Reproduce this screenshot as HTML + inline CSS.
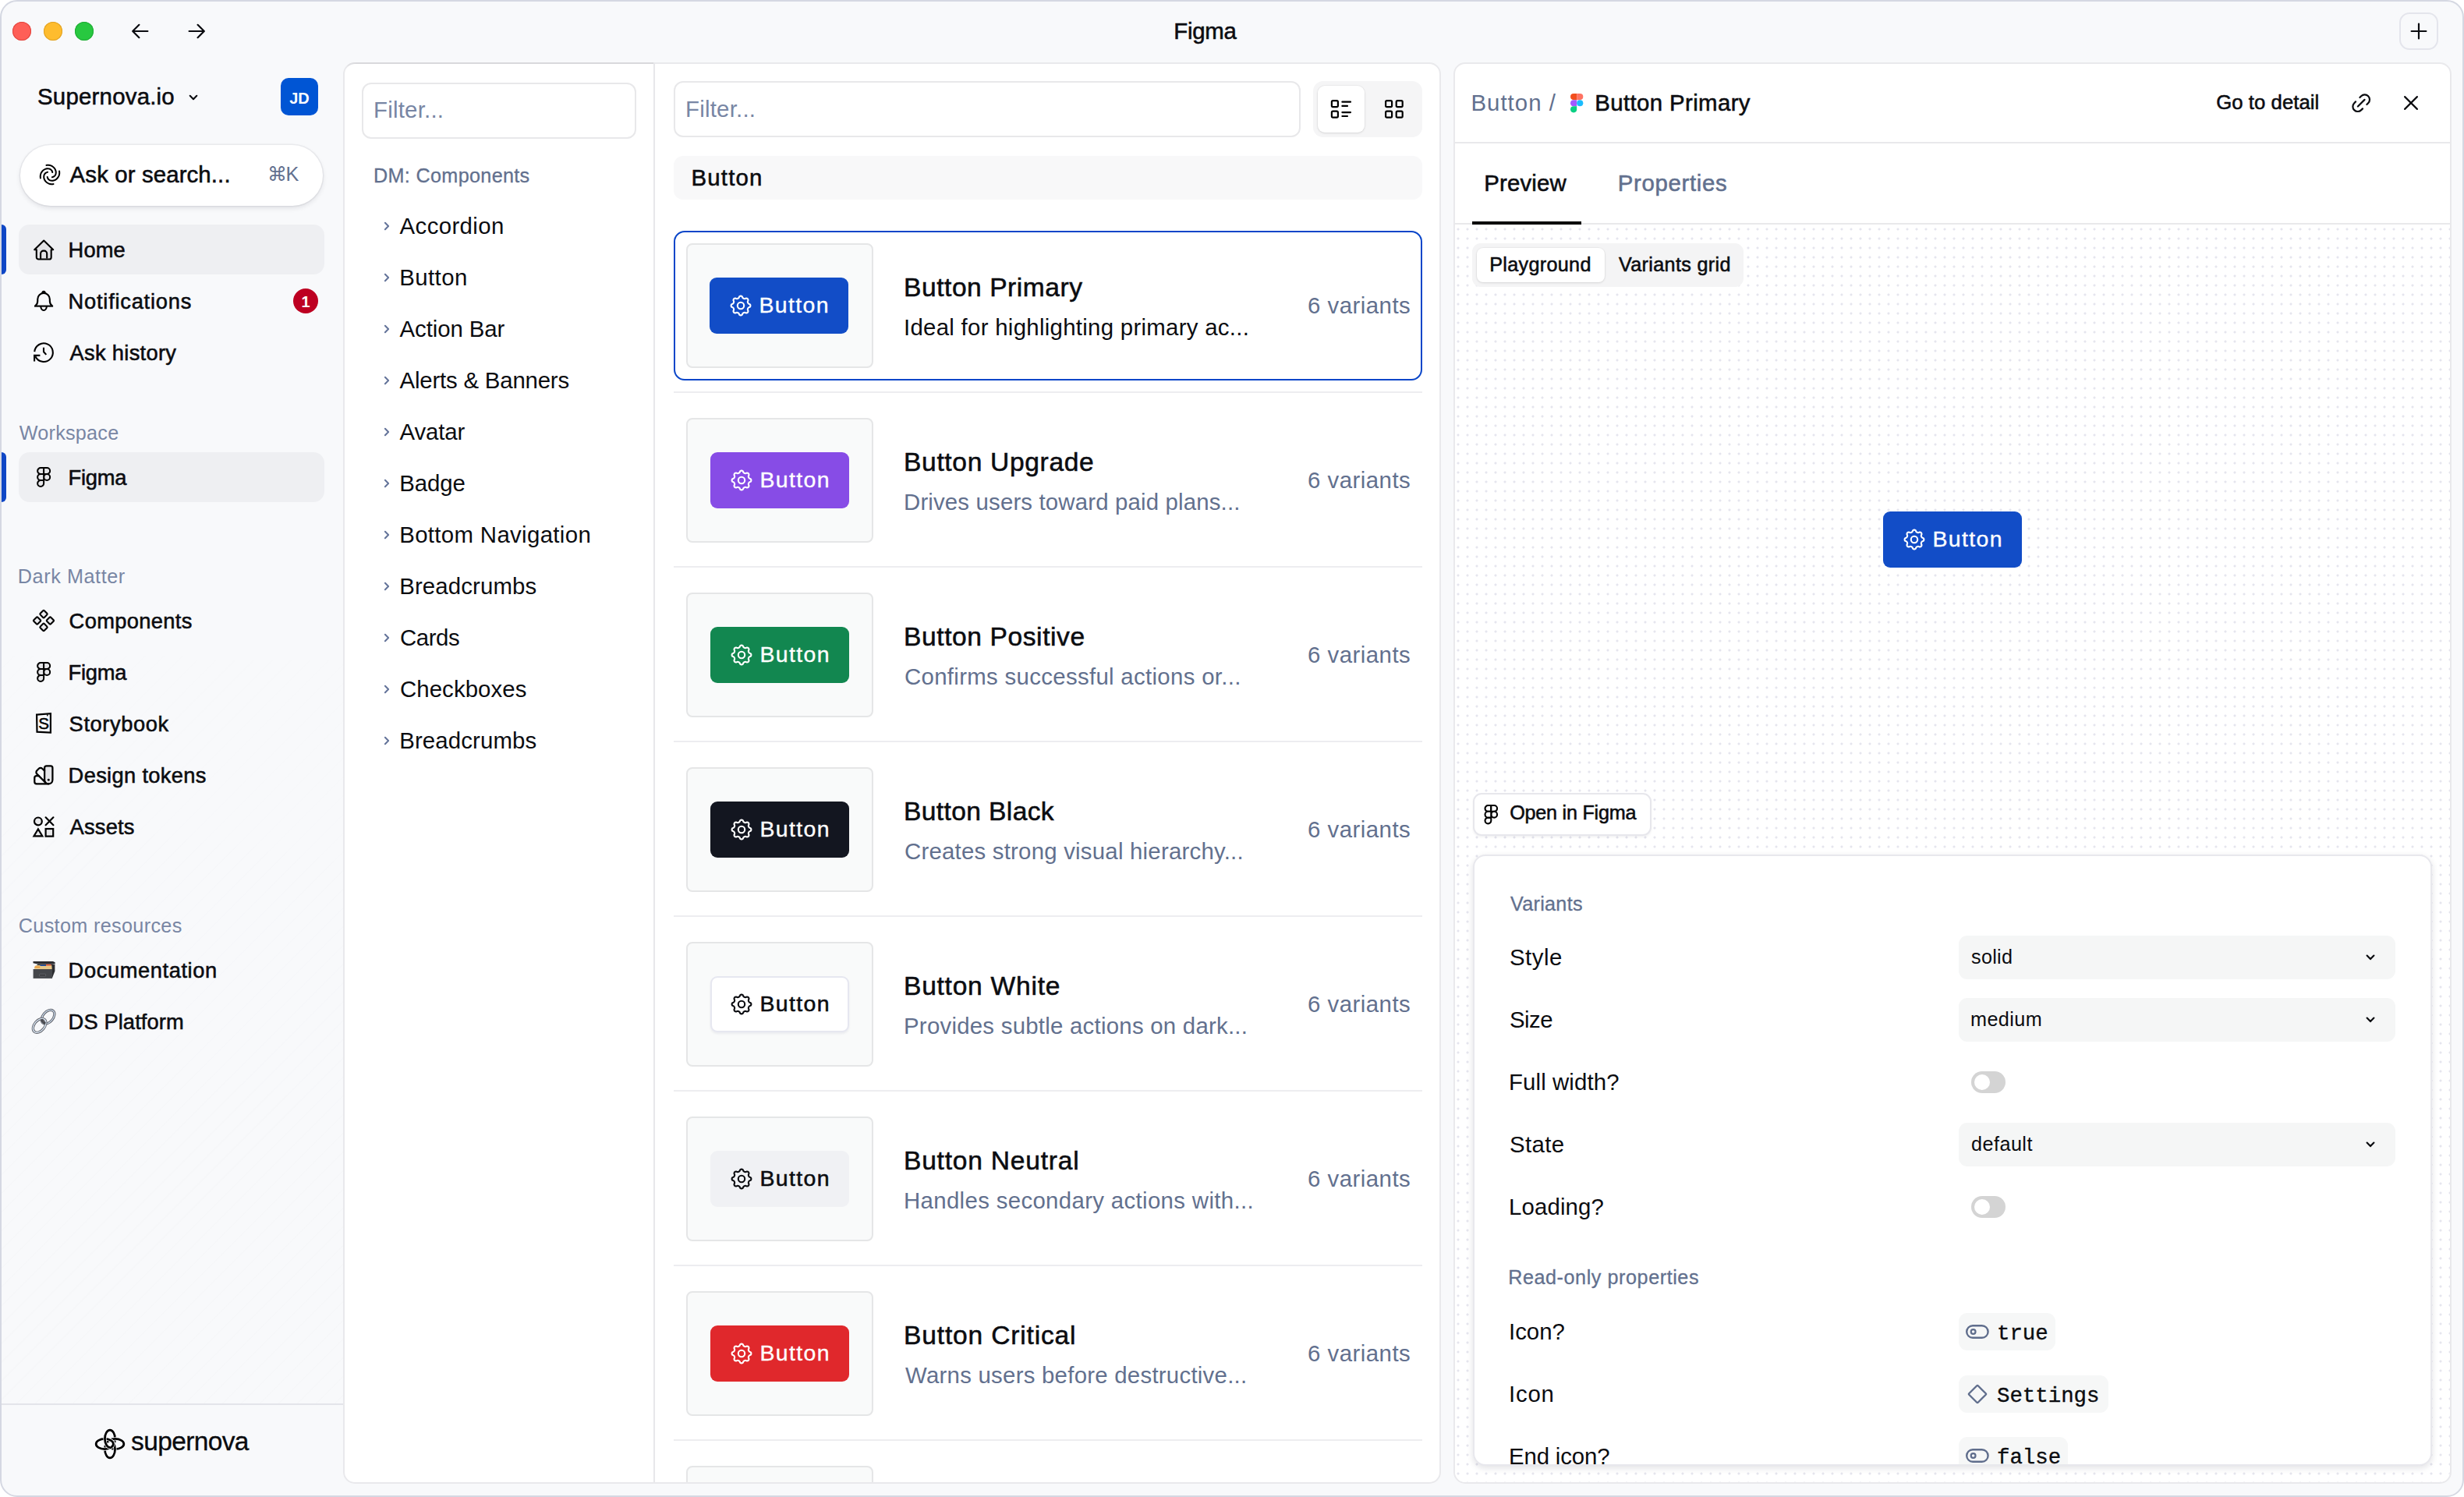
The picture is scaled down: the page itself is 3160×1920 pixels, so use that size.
<!DOCTYPE html><html lang="en"><head><meta charset="utf-8"><title>Figma</title>
<style>
*{margin:0;padding:0}
html,body{width:3160px;height:1920px;overflow:hidden;background:#fff}
body{position:relative;font-family:"Liberation Sans",sans-serif;-webkit-font-smoothing:antialiased}
#win{position:absolute;left:0;top:0;width:3160px;height:1920px;box-sizing:border-box;border:2px solid #d5d8e2;border-radius:22px;background:#f8f9fb;overflow:hidden}
#win div,#win span,#win svg{position:absolute}
#win section,#win nav,#win header,#win aside,#win main{position:absolute;left:0;top:0;width:3160px;height:1920px}
#win>section,#win>header,#win>aside,#win>main{left:-2px;top:-2px}
.t{white-space:nowrap;font-weight:400}
.m{-webkit-text-stroke:0.55px currentColor}
.b{font-weight:700}
.mo{font-family:"Liberation Mono",monospace}
.clip{overflow:hidden}
@media (max-width:1600px){html,body{width:1580px;height:960px}#win{zoom:.5}}
.i{overflow:visible}
.panel{box-sizing:border-box;border:2px solid #e9e9ec;border-radius:15px;background:#fff}
</style></head><body>
<div id="win">
<header>
<div style="left:16px;top:28px;width:24px;height:24px;border-radius:50%;background:#fe5f57;box-shadow:inset 0 0 0 1px #e2463f;"></div>
<div style="left:56px;top:28px;width:24px;height:24px;border-radius:50%;background:#febc2e;box-shadow:inset 0 0 0 1px #e0a123;"></div>
<div style="left:96px;top:28px;width:24px;height:24px;border-radius:50%;background:#28c840;box-shadow:inset 0 0 0 1px #1fab35;"></div>
<svg class="i" style="left:166px;top:26px;" width="28" height="28" viewBox="0 0 28 28"><path d="M23.4,14 H4.6 M12.4,5.8 L4.2,14 L12.4,22.2" fill="none" stroke="#0b0c10" stroke-width="2.2" stroke-linecap="round" stroke-linejoin="round"/></svg>
<svg class="i" style="left:238px;top:26px;" width="28" height="28" viewBox="0 0 28 28"><path d="M4.6,14 H23.4 M15.6,5.8 L23.8,14 L15.6,22.2" fill="none" stroke="#0b0c10" stroke-width="2.2" stroke-linecap="round" stroke-linejoin="round"/></svg>
<span id="t1" class="t m" style="left:1505.2px;top:20.6px;font-size:29.4px;line-height:38px;color:#0b0c10;letter-spacing:-0.225px;">Figma</span>
<div style="left:3077px;top:16px;width:50px;height:48px;border:2px solid #e4e5ec;border-radius:13px;box-sizing:border-box;background:#f8f9fb;"></div>
<svg class="i" style="left:3088px;top:26px;" width="28" height="28" viewBox="0 0 28 28"><path d="M14,4.6 V23.4 M4.6,14 H23.4" fill="none" stroke="#0b0c10" stroke-width="2.2" stroke-linecap="round"/></svg>
</header>
<aside>
<div style="left:2px;top:640px;width:439px;height:1160px;background:repeating-linear-gradient(135deg,rgba(60,60,90,0.04) 0,rgba(60,60,90,0.04) 1.5px,rgba(0,0,0,0) 1.6px,rgba(0,0,0,0) 17px);-webkit-mask-image:linear-gradient(160deg,#000 0%,rgba(0,0,0,0.25) 100%),linear-gradient(180deg,rgba(0,0,0,0) 10%,rgba(0,0,0,0.35) 55%,#000 100%);-webkit-mask-composite:source-in;mask-image:linear-gradient(160deg,#000 0%,rgba(0,0,0,0.25) 100%),linear-gradient(180deg,rgba(0,0,0,0) 10%,rgba(0,0,0,0.35) 55%,#000 100%);mask-composite:intersect;"></div>
<span id="t2" class="t m" style="left:48.0px;top:104.5px;font-size:29.4px;line-height:38px;color:#0b0c10;letter-spacing:0.227px;">Supernova.io</span>
<svg class="i" style="left:239.8px;top:118.5px;" width="16" height="12" viewBox="-8 -6 16 12"><path d="M-4.3,-2.15 L0,2.15 L4.3,-2.15" fill="none" stroke="#0b0c10" stroke-width="2.1" stroke-linecap="round" stroke-linejoin="round"/></svg>
<div style="left:360px;top:100px;width:48px;height:48px;border-radius:10px;background:#0055d4;"></div>
<span id="t3" class="t b" style="left:384px;top:113.26px;font-size:20.0px;line-height:26px;color:#fff;transform:translateX(-50%);">JD</span>
<div style="left:25.5px;top:185.5px;width:388.5px;height:78px;border-radius:40px;background:#fff;box-shadow:0 0 0 1.5px rgba(30,30,60,0.055),0 3px 6px rgba(20,20,40,0.10);"></div>
<svg class="i" style="left:50px;top:210px;" width="28" height="28" viewBox="-14 -14 28 28"><g fill="none" stroke="#000" stroke-width="2" stroke-linecap="round"><path d="M-4.52,-12.10 C-4.04,-12.12 -2.60,-12.30 -1.64,-12.22 C-0.68,-12.14 0.37,-11.94 1.25,-11.62 C2.13,-11.30 2.92,-10.83 3.66,-10.29 C4.40,-9.75 5.12,-9.09 5.70,-8.37 C6.28,-7.65 6.80,-6.76 7.14,-5.96 C7.48,-5.16 7.66,-4.32 7.74,-3.56 C7.82,-2.80 7.74,-2.07 7.62,-1.39 C7.50,-0.71 7.44,-0.11 7.02,0.53 C6.60,1.17 5.78,1.99 5.10,2.45 C4.42,2.91 3.29,3.15 2.93,3.29" transform="rotate(0)"/><path d="M-4.52,-12.10 C-4.04,-12.12 -2.60,-12.30 -1.64,-12.22 C-0.68,-12.14 0.37,-11.94 1.25,-11.62 C2.13,-11.30 2.92,-10.83 3.66,-10.29 C4.40,-9.75 5.12,-9.09 5.70,-8.37 C6.28,-7.65 6.80,-6.76 7.14,-5.96 C7.48,-5.16 7.66,-4.32 7.74,-3.56 C7.82,-2.80 7.74,-2.07 7.62,-1.39 C7.50,-0.71 7.44,-0.11 7.02,0.53 C6.60,1.17 5.78,1.99 5.10,2.45 C4.42,2.91 3.29,3.15 2.93,3.29" transform="rotate(90)"/><path d="M-4.52,-12.10 C-4.04,-12.12 -2.60,-12.30 -1.64,-12.22 C-0.68,-12.14 0.37,-11.94 1.25,-11.62 C2.13,-11.30 2.92,-10.83 3.66,-10.29 C4.40,-9.75 5.12,-9.09 5.70,-8.37 C6.28,-7.65 6.80,-6.76 7.14,-5.96 C7.48,-5.16 7.66,-4.32 7.74,-3.56 C7.82,-2.80 7.74,-2.07 7.62,-1.39 C7.50,-0.71 7.44,-0.11 7.02,0.53 C6.60,1.17 5.78,1.99 5.10,2.45 C4.42,2.91 3.29,3.15 2.93,3.29" transform="rotate(180)"/><path d="M-4.52,-12.10 C-4.04,-12.12 -2.60,-12.30 -1.64,-12.22 C-0.68,-12.14 0.37,-11.94 1.25,-11.62 C2.13,-11.30 2.92,-10.83 3.66,-10.29 C4.40,-9.75 5.12,-9.09 5.70,-8.37 C6.28,-7.65 6.80,-6.76 7.14,-5.96 C7.48,-5.16 7.66,-4.32 7.74,-3.56 C7.82,-2.80 7.74,-2.07 7.62,-1.39 C7.50,-0.71 7.44,-0.11 7.02,0.53 C6.60,1.17 5.78,1.99 5.10,2.45 C4.42,2.91 3.29,3.15 2.93,3.29" transform="rotate(270)"/></g></svg>
<span id="t4" class="t m" style="left:89.6px;top:204.6px;font-size:29.4px;line-height:38px;color:#0b0c10;letter-spacing:0.119px;">Ask or search...</span>
<span id="t5" class="t" style="left:343.0px;top:207.36px;font-size:25.2px;line-height:33px;color:#62708e;letter-spacing:-1.5px;">⌘K</span>
<div style="left:24px;top:288px;width:392px;height:64px;border-radius:14px;background:#eeeff2;"></div>
<div style="left:2px;top:288px;width:6px;height:64px;border-radius:0 6px 6px 0;background:#0f47c6;"></div>
<span id="t6" class="t m" style="left:87.6px;top:303.03px;font-size:27.3px;line-height:35px;color:#0b0c10;letter-spacing:0.1px;">Home</span>
<svg class="i" style="left:42.9px;top:306.6px;" width="26.4" height="26.6" viewBox="0 0 26.4 26.6"><path d="M3.8,13.3 V22.9 a2.6,2.6 0 0 0 2.6,2.6 H20.1 a2.6,2.6 0 0 0 2.6,-2.6 V13.3 H25.2 L13.2,1.5 L1.2,13.3 Z" fill="#e3e3e6" stroke="#000" stroke-width="2.1" stroke-linejoin="round"/><path d="M9.1,25.5 V18.2 a3.6,3.6 0 0 1 3.6,-3.6 h0.9 a3.6,3.6 0 0 1 3.6,3.6 V24.6" fill="none" stroke="#000" stroke-width="2.1"/></svg>
<span id="t7" class="t m" style="left:87.6px;top:369.03px;font-size:27.3px;line-height:35px;color:#0b0c10;letter-spacing:0.75px;">Notifications</span>
<svg class="i" style="left:43px;top:372px;" width="26" height="28" viewBox="0 0 26 28"><g fill="none" stroke="#000" stroke-width="2.1"><path d="M1,20.6 H25.1"/><path d="M2.2,20.4 C4.4,18.8 5.25,16.8 5.25,14 V11.7 A7.8,7.8 0 0 1 20.85,11.7 V14 C20.85,16.8 21.7,18.8 23.9,20.4"/><path d="M11.3,4.2 C11.3,0.9 14.8,0.9 14.8,4.2"/><path d="M9.25,20.6 a3.8,5.45 0 0 0 7.6,0"/></g></svg>
<div style="left:376px;top:370px;width:32px;height:32px;border-radius:50%;background:#bd0021;"></div>
<span id="t8" class="t b" style="left:392px;top:374.26px;font-size:20.0px;line-height:26px;color:#fff;transform:translateX(-50%);">1</span>
<span id="t9" class="t m" style="left:89.6px;top:435.03px;font-size:27.3px;line-height:35px;color:#0b0c10;letter-spacing:0.29px;">Ask history</span>
<svg class="i" style="left:42px;top:438px;" width="28" height="28" viewBox="-14 -14 28 28"><path d="M-11.75,-0.8 A11.8,11.8 0 1 1 -10.6,5.3" fill="none" stroke="#000" stroke-width="2.1" stroke-linecap="butt"/><path d="M-4.6,3.9 H-11.9 V11.6" fill="none" stroke="#000" stroke-width="2.1" stroke-linejoin="miter"/><path d="M0,-6.2 V-0.8 L3.3,2.9" fill="none" stroke="#000" stroke-width="2.1" stroke-linecap="butt" stroke-linejoin="round"/></svg>
<span id="t10" class="t" style="left:24.8px;top:538.76px;font-size:25.2px;line-height:33px;color:#7886a4;letter-spacing:0.231px;">Workspace</span>
<div style="left:24px;top:580px;width:392px;height:64px;border-radius:14px;background:#eeeff2;"></div>
<div style="left:2px;top:580px;width:6px;height:64px;border-radius:0 6px 6px 0;background:#0f47c6;"></div>
<span id="t11" class="t m" style="left:87.6px;top:595.03px;font-size:27.3px;line-height:35px;color:#0b0c10;letter-spacing:-0.275px;">Figma</span>
<svg class="i" style="left:47px;top:599px;overflow:visible;" width="18.3" height="26" viewBox="4.125 1.125 15.75 22.75"><g fill="#e6e6e9" stroke="#000" stroke-width="1.75" stroke-linejoin="round"><path d="M5 5.5A3.5 3.5 0 0 1 8.5 2H12v7H8.5A3.5 3.5 0 0 1 5 5.5z"/><path d="M12 2h3.5a3.5 3.5 0 1 1 0 7H12V2z"/><path d="M12 12.5a3.5 3.5 0 1 1 7 0 3.5 3.5 0 1 1-7 0z"/><path d="M5 19.5A3.5 3.5 0 0 1 8.5 16H12v3.5a3.5 3.5 0 1 1-7 0z"/><path d="M5 12.5A3.5 3.5 0 0 1 8.5 9H12v7H8.5A3.5 3.5 0 0 1 5 12.5z"/></g></svg>
<span id="t12" class="t" style="left:22.8px;top:722.76px;font-size:25.2px;line-height:33px;color:#7886a4;letter-spacing:0.59px;">Dark Matter</span>
<span id="t13" class="t m" style="left:88.6px;top:779.03px;font-size:27.3px;line-height:35px;color:#0b0c10;letter-spacing:0.333px;">Components</span>
<svg class="i" style="left:41.04px;top:780.8px;" width="30" height="30" viewBox="-15 -15 30 30"><g fill="#ebebee" stroke="#000" stroke-width="2.1" stroke-linejoin="round"><rect x="-3.6" y="-12.0" width="7.2" height="7.2" rx="1.1" transform="rotate(45 0 -8.4)"/><rect x="4.800000000000001" y="-3.6" width="7.2" height="7.2" rx="1.1" transform="rotate(45 8.4 0)"/><rect x="-3.6" y="4.800000000000001" width="7.2" height="7.2" rx="1.1" transform="rotate(45 0 8.4)"/><rect x="-12.0" y="-3.6" width="7.2" height="7.2" rx="1.1" transform="rotate(45 -8.4 0)"/></g></svg>
<span id="t14" class="t m" style="left:87.6px;top:845.03px;font-size:27.3px;line-height:35px;color:#0b0c10;letter-spacing:-0.275px;">Figma</span>
<svg class="i" style="left:47px;top:849px;overflow:visible;" width="18.3" height="26" viewBox="4.125 1.125 15.75 22.75"><g fill="#e6e6e9" stroke="#000" stroke-width="1.75" stroke-linejoin="round"><path d="M5 5.5A3.5 3.5 0 0 1 8.5 2H12v7H8.5A3.5 3.5 0 0 1 5 5.5z"/><path d="M12 2h3.5a3.5 3.5 0 1 1 0 7H12V2z"/><path d="M12 12.5a3.5 3.5 0 1 1 7 0 3.5 3.5 0 1 1-7 0z"/><path d="M5 19.5A3.5 3.5 0 0 1 8.5 16H12v3.5a3.5 3.5 0 1 1-7 0z"/><path d="M5 12.5A3.5 3.5 0 0 1 8.5 9H12v7H8.5A3.5 3.5 0 0 1 5 12.5z"/></g></svg>
<span id="t15" class="t m" style="left:88.6px;top:911.03px;font-size:27.3px;line-height:35px;color:#0b0c10;letter-spacing:0.575px;">Storybook</span>
<svg class="i" style="left:45px;top:914px;" width="22" height="28" viewBox="0 0 22 28"><path d="M2.1,2.6 L19.9,1.2 V25.6 L2.5,24.6 Z" fill="none" stroke="#000" stroke-width="2.2" stroke-linejoin="miter"/><path d="M15.6,1.9 L15.9,4.4" fill="none" stroke="#000" stroke-width="1.4"/><text x="11.1" y="20.6" font-family="Liberation Sans, sans-serif" font-size="20.6" text-anchor="middle" fill="#000" stroke="#000" stroke-width="0.5">S</text></svg>
<span id="t16" class="t m" style="left:87.6px;top:977.03px;font-size:27.3px;line-height:35px;color:#0b0c10;letter-spacing:0.319px;">Design tokens</span>
<svg class="i" style="left:43.2px;top:981.1px;" width="25.7" height="25.7" viewBox="2 2 20 20"><g transform="translate(24,0) scale(-1,1)" fill="none" stroke="#000" stroke-width="1.75" stroke-linecap="round" stroke-linejoin="round"><path d="M11 17a4 4 0 0 1-8 0V5a2 2 0 0 1 2-2h4a2 2 0 0 1 2 2Z" fill="#e6e6e9"/><path d="M16.7 13H19a2 2 0 0 1 2 2v4a2 2 0 0 1-2 2H7"/><path d="M7 17h.01" stroke-width="2.2"/><path d="m11 8 2.3-2.3a2.4 2.4 0 0 1 3.404.004L18.6 7.6a2.4 2.4 0 0 1 .026 3.434L9.9 19.8"/></g></svg>
<span id="t17" class="t m" style="left:89.6px;top:1043.03px;font-size:27.3px;line-height:35px;color:#0b0c10;letter-spacing:0.18px;">Assets</span>
<svg class="i" style="left:42px;top:1046.5px;" width="28" height="27" viewBox="0 0 28 27"><g stroke="#000" stroke-width="2.2" fill="#e8e8ea"><circle cx="6.9" cy="6.4" r="4.9"/><path d="M16.6,1.3 L26.4,11.2 M26.4,1.3 L16.6,11.2" fill="none" stroke-linecap="round"/><path d="M6.9,16.4 L12.3,25.3 H1.5 Z" stroke-linejoin="miter"/><rect x="16.6" y="16" width="9.6" height="9.6"/></g></svg>
<span id="t18" class="t" style="left:23.8px;top:1170.76px;font-size:25.2px;line-height:33px;color:#7886a4;letter-spacing:0.341px;">Custom resources</span>
<span id="t19" class="t m" style="left:87.6px;top:1227.03px;font-size:27.3px;line-height:35px;color:#0b0c10;letter-spacing:0.583px;">Documentation</span>
<svg class="i" style="left:41.5px;top:1232px;" width="29" height="24" viewBox="0 0 29 24"><path d="M0.5,1 H26 L28.6,2.2 V4.2 H5 L0.5,3.2 Z" fill="#2b2c2f"/><path d="M6.5,4.4 H27 L24.5,9 H2.2 Z" fill="#1c1d1f"/><path d="M2.2,8.6 L4,6 H24.6 L25,11 H2.2 Z" fill="#e8c888"/><path d="M9.5,5.6 H17 V7 H9.5 Z" fill="#2a5bb5"/><path d="M17,4.8 H23.6 V6.4 H17 Z" fill="#d84a2c"/><path d="M2.6,7.6 H9.2 V9 H2.6 Z" fill="#f0922a"/><path d="M24.6,6 L28.4,4.4 V13.5 L24.8,22.8 Z" fill="#2c2d30"/><path d="M0.6,11 H25 V22.9 H0.6 Z" fill="#45474b"/><rect x="8.6" y="17.2" width="8" height="3" rx="0.6" fill="#3a3b3f" stroke="#6b6d72" stroke-width="0.7"/></svg>
<span id="t20" class="t m" style="left:87.6px;top:1293.03px;font-size:27.3px;line-height:35px;color:#0b0c10;letter-spacing:0.1px;">DS Platform</span>
<svg class="i" style="left:40px;top:1293.7px;" width="32" height="32" viewBox="0 0 32 32"><g fill="none"><ellipse cx="21.6" cy="10.2" rx="10.2" ry="6.6" transform="rotate(-50 21.6 10.2)" stroke="#5d5f66" stroke-width="3.2"/><ellipse cx="21.6" cy="10.2" rx="10.2" ry="6.6" transform="rotate(-50 21.6 10.2)" stroke="#cfe0f2" stroke-width="1.2"/><ellipse cx="10.6" cy="21.4" rx="10.2" ry="6.6" transform="rotate(-50 10.6 21.4)" stroke="#5d5f66" stroke-width="3.2"/><ellipse cx="10.6" cy="21.4" rx="10.2" ry="6.6" transform="rotate(-50 10.6 21.4)" stroke="#dbe8f6" stroke-width="1.4"/><path d="M13.5,13.2 Q14.6,17.6 18.4,18.6" stroke="#4a4b50" stroke-width="3.2"/></g></svg>
<div style="left:2px;top:1800px;width:439px;height:2px;background:#e3e4ea;"></div>
<svg class="i" style="left:121px;top:1832px;" width="40" height="40" viewBox="-20 -20 40 40"><clipPath id="lgc"><rect x="-20" y="-20" width="20" height="40"/></clipPath><g fill="none"><g><ellipse cx="0" cy="-6.75" rx="6.55" ry="11.1" transform="rotate(0)" stroke="#f8f9fb" stroke-width="4.2"/><ellipse cx="0" cy="-6.75" rx="6.55" ry="11.1" transform="rotate(0)" stroke="#000" stroke-width="2.75"/></g><g><ellipse cx="0" cy="-6.75" rx="6.55" ry="11.1" transform="rotate(90)" stroke="#f8f9fb" stroke-width="4.2"/><ellipse cx="0" cy="-6.75" rx="6.55" ry="11.1" transform="rotate(90)" stroke="#000" stroke-width="2.75"/></g><g><ellipse cx="0" cy="-6.75" rx="6.55" ry="11.1" transform="rotate(180)" stroke="#f8f9fb" stroke-width="4.2"/><ellipse cx="0" cy="-6.75" rx="6.55" ry="11.1" transform="rotate(180)" stroke="#000" stroke-width="2.75"/></g><g><ellipse cx="0" cy="-6.75" rx="6.55" ry="11.1" transform="rotate(270)" stroke="#f8f9fb" stroke-width="4.2"/><ellipse cx="0" cy="-6.75" rx="6.55" ry="11.1" transform="rotate(270)" stroke="#000" stroke-width="2.75"/></g><g clip-path="url(#lgc)"><ellipse cx="0" cy="-6.75" rx="6.55" ry="11.1" transform="rotate(0)" stroke="#f8f9fb" stroke-width="4.2"/><ellipse cx="0" cy="-6.75" rx="6.55" ry="11.1" transform="rotate(0)" stroke="#000" stroke-width="2.75"/></g></g></svg>
<span id="t21" class="t" style="left:168.0px;top:1826.78px;font-size:33.5px;line-height:44px;color:#0b0c10;letter-spacing:-0.625px;-webkit-text-stroke:0.3px #000;">supernova</span>
</aside>
<main>
<div class="panel" style="left:440px;top:80px;width:1408px;height:1823px;"></div>
<div style="left:440px;top:80px;width:400px;height:40px;box-sizing:border-box;border-top:2px solid #d9d9dc;border-left:2px solid #e9e9ec;border-radius:15px 0 0 0;-webkit-mask-image:linear-gradient(90deg,rgba(0,0,0,0) 0,#000 16px);mask-image:linear-gradient(90deg,rgba(0,0,0,0) 0,#000 16px);"></div>
<div style="left:838px;top:80px;width:2px;height:1821px;background:#e7e7ea;"></div>
<nav>
<div style="left:464px;top:106px;width:352px;height:72px;border:2px solid #e8e8ea;border-radius:12px;box-sizing:border-box;background:#fff;"></div>
<span id="t22" class="t" style="left:479.0px;top:122.4px;font-size:29.4px;line-height:38px;color:#7886a4;letter-spacing:0.225px;">Filter...</span>
<span id="t23" class="t m" style="left:479.0px;top:208.76px;font-size:25.2px;line-height:33px;color:#62708e;letter-spacing:0.326px;-webkit-text-stroke-width:0.3px;">DM: Components</span>
<svg class="i" style="left:490px;top:282px;" width="12" height="16" viewBox="-6 -8 12 16"><path d="M-2.1,-4.3 L2.1,0 L-2.1,4.3" fill="none" stroke="#64749a" stroke-width="2" stroke-linecap="round" stroke-linejoin="round"/></svg>
<span id="t24" class="t" style="left:512.6px;top:270.8px;font-size:29.4px;line-height:38px;color:#0b0c10;letter-spacing:0.375px;">Accordion</span>
<svg class="i" style="left:490px;top:348px;" width="12" height="16" viewBox="-6 -8 12 16"><path d="M-2.1,-4.3 L2.1,0 L-2.1,4.3" fill="none" stroke="#64749a" stroke-width="2" stroke-linecap="round" stroke-linejoin="round"/></svg>
<span id="t25" class="t" style="left:512.2px;top:336.8px;font-size:29.4px;line-height:38px;color:#0b0c10;letter-spacing:0.42px;">Button</span>
<svg class="i" style="left:490px;top:414px;" width="12" height="16" viewBox="-6 -8 12 16"><path d="M-2.1,-4.3 L2.1,0 L-2.1,4.3" fill="none" stroke="#64749a" stroke-width="2" stroke-linecap="round" stroke-linejoin="round"/></svg>
<span id="t26" class="t" style="left:512.6px;top:402.8px;font-size:29.4px;line-height:38px;color:#0b0c10;letter-spacing:-0.096px;">Action Bar</span>
<svg class="i" style="left:490px;top:480px;" width="12" height="16" viewBox="-6 -8 12 16"><path d="M-2.1,-4.3 L2.1,0 L-2.1,4.3" fill="none" stroke="#64749a" stroke-width="2" stroke-linecap="round" stroke-linejoin="round"/></svg>
<span id="t27" class="t" style="left:512.6px;top:468.8px;font-size:29.4px;line-height:38px;color:#0b0c10;letter-spacing:-0.2px;">Alerts &amp; Banners</span>
<svg class="i" style="left:490px;top:546px;" width="12" height="16" viewBox="-6 -8 12 16"><path d="M-2.1,-4.3 L2.1,0 L-2.1,4.3" fill="none" stroke="#64749a" stroke-width="2" stroke-linecap="round" stroke-linejoin="round"/></svg>
<span id="t28" class="t" style="left:512.6px;top:534.8px;font-size:29.4px;line-height:38px;color:#0b0c10;letter-spacing:-0.14px;">Avatar</span>
<svg class="i" style="left:490px;top:612px;" width="12" height="16" viewBox="-6 -8 12 16"><path d="M-2.1,-4.3 L2.1,0 L-2.1,4.3" fill="none" stroke="#64749a" stroke-width="2" stroke-linecap="round" stroke-linejoin="round"/></svg>
<span id="t29" class="t" style="left:512.2px;top:600.8px;font-size:29.4px;line-height:38px;color:#0b0c10;letter-spacing:-0.075px;">Badge</span>
<svg class="i" style="left:490px;top:678px;" width="12" height="16" viewBox="-6 -8 12 16"><path d="M-2.1,-4.3 L2.1,0 L-2.1,4.3" fill="none" stroke="#64749a" stroke-width="2" stroke-linecap="round" stroke-linejoin="round"/></svg>
<span id="t30" class="t" style="left:512.2px;top:666.8px;font-size:29.4px;line-height:38px;color:#0b0c10;letter-spacing:0.338px;">Bottom Navigation</span>
<svg class="i" style="left:490px;top:744px;" width="12" height="16" viewBox="-6 -8 12 16"><path d="M-2.1,-4.3 L2.1,0 L-2.1,4.3" fill="none" stroke="#64749a" stroke-width="2" stroke-linecap="round" stroke-linejoin="round"/></svg>
<span id="t31" class="t" style="left:512.2px;top:732.8px;font-size:29.4px;line-height:38px;color:#0b0c10;letter-spacing:0.12px;">Breadcrumbs</span>
<svg class="i" style="left:490px;top:810px;" width="12" height="16" viewBox="-6 -8 12 16"><path d="M-2.1,-4.3 L2.1,0 L-2.1,4.3" fill="none" stroke="#64749a" stroke-width="2" stroke-linecap="round" stroke-linejoin="round"/></svg>
<span id="t32" class="t" style="left:513.0px;top:798.8px;font-size:29.4px;line-height:38px;color:#0b0c10;letter-spacing:-0.425px;">Cards</span>
<svg class="i" style="left:490px;top:876px;" width="12" height="16" viewBox="-6 -8 12 16"><path d="M-2.1,-4.3 L2.1,0 L-2.1,4.3" fill="none" stroke="#64749a" stroke-width="2" stroke-linecap="round" stroke-linejoin="round"/></svg>
<span id="t33" class="t" style="left:513.0px;top:864.8px;font-size:29.4px;line-height:38px;color:#0b0c10;letter-spacing:0.067px;">Checkboxes</span>
<svg class="i" style="left:490px;top:942px;" width="12" height="16" viewBox="-6 -8 12 16"><path d="M-2.1,-4.3 L2.1,0 L-2.1,4.3" fill="none" stroke="#64749a" stroke-width="2" stroke-linecap="round" stroke-linejoin="round"/></svg>
<span id="t34" class="t" style="left:512.2px;top:930.8px;font-size:29.4px;line-height:38px;color:#0b0c10;letter-spacing:0.12px;">Breadcrumbs</span>
</nav>
<section>
<div style="left:864px;top:104px;width:804px;height:72px;border:2px solid #e8e8ea;border-radius:12px;box-sizing:border-box;background:#fff;"></div>
<span id="t35" class="t" style="left:879.0px;top:121.1px;font-size:29.4px;line-height:38px;color:#7886a4;letter-spacing:0.225px;">Filter...</span>
<div style="left:1684px;top:104px;width:140px;height:72px;border-radius:13px;background:#f5f5f6;"></div>
<div style="left:1690px;top:110px;width:60px;height:60px;border-radius:9px;background:#fff;box-shadow:0 1px 3px rgba(0,0,0,0.10),0 0 0 1px rgba(0,0,0,0.03);"></div>
<svg class="i" style="left:1705px;top:126px;" width="30" height="28" viewBox="0 0 30 28"><g fill="none" stroke="#000" stroke-width="2.2" stroke-linecap="round"><rect x="2.9" y="3.1" width="8" height="8" rx="1.6"/><rect x="2.9" y="16.7" width="8" height="8" rx="1.6"/><path d="M16.4,4.7 H27 M16.4,9.9 H23 M16.4,18.1 H27 M16.4,23 H23"/></g></svg>
<svg class="i" style="left:1774px;top:126px;" width="28" height="28" viewBox="0 0 28 28"><g fill="none" stroke="#000" stroke-width="2.2"><rect x="3.1" y="3.1" width="8" height="8" rx="1.6"/><rect x="16.7" y="3.1" width="8" height="8" rx="1.6"/><rect x="3.1" y="16.7" width="8" height="8" rx="1.6"/><rect x="16.7" y="16.7" width="8" height="8" rx="1.6"/></g></svg>
<div style="left:864px;top:200px;width:960px;height:56px;border-radius:12px;background:#f8f8f9;"></div>
<span id="t36" class="t m" style="left:886.4px;top:208.5px;font-size:29.4px;line-height:38px;color:#0b0c10;letter-spacing:1.22px;">Button</span>
<div class="clip" style="left:842px;top:282px;width:1004px;height:1619px;">
<div style="left:22px;top:14px;width:960px;height:192px;border:2px solid #0a46c9;border-radius:14px;box-sizing:border-box;"></div>
<div style="left:38px;top:30px;width:240px;height:160px;border:2px solid #e5e6e7;border-radius:8px;box-sizing:border-box;background:#f9fafa;"></div>
<div style="left:68px;top:74px;width:178px;height:72px;border-radius:9px;background:#124dc7;"></div>
<svg class="i" style="left:93.9px;top:96px;" width="28" height="28" viewBox="-14 -14 28 28"><g fill="none" stroke="#fff" stroke-width="2.1" stroke-linejoin="round"><path d="M0.0,-12.4 L1.0,-12.2 L1.8,-11.6 L2.4,-10.1 L3.1,-9.5 L3.8,-9.1 L4.5,-8.9 L5.4,-8.9 L6.9,-9.5 L8.0,-9.3 L8.8,-8.8 L9.3,-8.0 L9.5,-6.9 L8.9,-5.4 L8.9,-4.5 L9.1,-3.8 L9.5,-3.1 L10.1,-2.4 L11.6,-1.8 L12.2,-1.0 L12.4,-0.0 L12.2,1.0 L11.6,1.8 L10.1,2.4 L9.5,3.1 L9.1,3.8 L8.9,4.5 L8.9,5.4 L9.5,6.9 L9.3,8.0 L8.8,8.8 L8.0,9.3 L6.9,9.5 L5.4,8.9 L4.5,8.9 L3.8,9.1 L3.1,9.5 L2.4,10.1 L1.8,11.6 L1.0,12.2 L0.0,12.4 L-1.0,12.2 L-1.8,11.6 L-2.4,10.1 L-3.1,9.5 L-3.8,9.1 L-4.5,8.9 L-5.4,8.9 L-6.9,9.5 L-8.0,9.3 L-8.8,8.8 L-9.3,8.0 L-9.5,6.9 L-8.9,5.4 L-8.9,4.5 L-9.1,3.8 L-9.5,3.1 L-10.1,2.4 L-11.6,1.8 L-12.2,1.0 L-12.4,0.0 L-12.2,-1.0 L-11.6,-1.8 L-10.1,-2.4 L-9.5,-3.1 L-9.1,-3.8 L-8.9,-4.5 L-8.9,-5.4 L-9.5,-6.9 L-9.3,-8.0 L-8.8,-8.8 L-8.0,-9.3 L-6.9,-9.5 L-5.4,-8.9 L-4.5,-8.9 L-3.8,-9.1 L-3.1,-9.5 L-2.4,-10.1 L-1.8,-11.6 L-1.0,-12.2Z"/><circle cx="0" cy="0" r="4.2"/></g></svg>
<span id="t37" class="t m" style="left:131.4px;top:91.22px;font-size:28.46px;line-height:37px;color:#fff;letter-spacing:1.4px;-webkit-text-stroke-width:0.35px;">Button</span>
<span id="t38" class="t m" style="left:317.0px;top:64.74px;font-size:33.6px;line-height:44px;color:#0b0c10;letter-spacing:0.538px;">Button Primary</span>
<span id="t39" class="t" style="left:317.0px;top:118.8px;font-size:29.4px;line-height:38px;color:#0b0c10;letter-spacing:0.285px;">Ideal for highlighting primary ac...</span>
<span id="t40" class="t" style="left:835.0px;top:90.8px;font-size:29.4px;line-height:38px;color:#62708e;letter-spacing:0.477px;">6 variants</span>
<div style="left:22px;top:220px;width:960px;height:2px;background:#ededf0;"></div>
<div style="left:38px;top:254px;width:240px;height:160px;border:2px solid #e5e6e7;border-radius:8px;box-sizing:border-box;background:#f9fafa;"></div>
<div style="left:69px;top:298px;width:178px;height:72px;border-radius:9px;background:#874ce6;"></div>
<svg class="i" style="left:94.9px;top:320px;" width="28" height="28" viewBox="-14 -14 28 28"><g fill="none" stroke="#fff" stroke-width="2.1" stroke-linejoin="round"><path d="M0.0,-12.4 L1.0,-12.2 L1.8,-11.6 L2.4,-10.1 L3.1,-9.5 L3.8,-9.1 L4.5,-8.9 L5.4,-8.9 L6.9,-9.5 L8.0,-9.3 L8.8,-8.8 L9.3,-8.0 L9.5,-6.9 L8.9,-5.4 L8.9,-4.5 L9.1,-3.8 L9.5,-3.1 L10.1,-2.4 L11.6,-1.8 L12.2,-1.0 L12.4,-0.0 L12.2,1.0 L11.6,1.8 L10.1,2.4 L9.5,3.1 L9.1,3.8 L8.9,4.5 L8.9,5.4 L9.5,6.9 L9.3,8.0 L8.8,8.8 L8.0,9.3 L6.9,9.5 L5.4,8.9 L4.5,8.9 L3.8,9.1 L3.1,9.5 L2.4,10.1 L1.8,11.6 L1.0,12.2 L0.0,12.4 L-1.0,12.2 L-1.8,11.6 L-2.4,10.1 L-3.1,9.5 L-3.8,9.1 L-4.5,8.9 L-5.4,8.9 L-6.9,9.5 L-8.0,9.3 L-8.8,8.8 L-9.3,8.0 L-9.5,6.9 L-8.9,5.4 L-8.9,4.5 L-9.1,3.8 L-9.5,3.1 L-10.1,2.4 L-11.6,1.8 L-12.2,1.0 L-12.4,0.0 L-12.2,-1.0 L-11.6,-1.8 L-10.1,-2.4 L-9.5,-3.1 L-9.1,-3.8 L-8.9,-4.5 L-8.9,-5.4 L-9.5,-6.9 L-9.3,-8.0 L-8.8,-8.8 L-8.0,-9.3 L-6.9,-9.5 L-5.4,-8.9 L-4.5,-8.9 L-3.8,-9.1 L-3.1,-9.5 L-2.4,-10.1 L-1.8,-11.6 L-1.0,-12.2Z"/><circle cx="0" cy="0" r="4.2"/></g></svg>
<span id="t41" class="t m" style="left:132.4px;top:315.22px;font-size:28.46px;line-height:37px;color:#fff;letter-spacing:1.4px;-webkit-text-stroke-width:0.35px;">Button</span>
<span id="t42" class="t m" style="left:317.0px;top:288.74px;font-size:33.6px;line-height:44px;color:#0b0c10;letter-spacing:0.654px;">Button Upgrade</span>
<span id="t43" class="t" style="left:317.0px;top:342.8px;font-size:29.4px;line-height:38px;color:#62708e;letter-spacing:0.158px;">Drives users toward paid plans...</span>
<span id="t44" class="t" style="left:835.0px;top:314.8px;font-size:29.4px;line-height:38px;color:#62708e;letter-spacing:0.477px;">6 variants</span>
<div style="left:22px;top:444px;width:960px;height:2px;background:#ededf0;"></div>
<div style="left:38px;top:478px;width:240px;height:160px;border:2px solid #e5e6e7;border-radius:8px;box-sizing:border-box;background:#f9fafa;"></div>
<div style="left:69px;top:522px;width:178px;height:72px;border-radius:9px;background:#128750;"></div>
<svg class="i" style="left:94.9px;top:544px;" width="28" height="28" viewBox="-14 -14 28 28"><g fill="none" stroke="#fff" stroke-width="2.1" stroke-linejoin="round"><path d="M0.0,-12.4 L1.0,-12.2 L1.8,-11.6 L2.4,-10.1 L3.1,-9.5 L3.8,-9.1 L4.5,-8.9 L5.4,-8.9 L6.9,-9.5 L8.0,-9.3 L8.8,-8.8 L9.3,-8.0 L9.5,-6.9 L8.9,-5.4 L8.9,-4.5 L9.1,-3.8 L9.5,-3.1 L10.1,-2.4 L11.6,-1.8 L12.2,-1.0 L12.4,-0.0 L12.2,1.0 L11.6,1.8 L10.1,2.4 L9.5,3.1 L9.1,3.8 L8.9,4.5 L8.9,5.4 L9.5,6.9 L9.3,8.0 L8.8,8.8 L8.0,9.3 L6.9,9.5 L5.4,8.9 L4.5,8.9 L3.8,9.1 L3.1,9.5 L2.4,10.1 L1.8,11.6 L1.0,12.2 L0.0,12.4 L-1.0,12.2 L-1.8,11.6 L-2.4,10.1 L-3.1,9.5 L-3.8,9.1 L-4.5,8.9 L-5.4,8.9 L-6.9,9.5 L-8.0,9.3 L-8.8,8.8 L-9.3,8.0 L-9.5,6.9 L-8.9,5.4 L-8.9,4.5 L-9.1,3.8 L-9.5,3.1 L-10.1,2.4 L-11.6,1.8 L-12.2,1.0 L-12.4,0.0 L-12.2,-1.0 L-11.6,-1.8 L-10.1,-2.4 L-9.5,-3.1 L-9.1,-3.8 L-8.9,-4.5 L-8.9,-5.4 L-9.5,-6.9 L-9.3,-8.0 L-8.8,-8.8 L-8.0,-9.3 L-6.9,-9.5 L-5.4,-8.9 L-4.5,-8.9 L-3.8,-9.1 L-3.1,-9.5 L-2.4,-10.1 L-1.8,-11.6 L-1.0,-12.2Z"/><circle cx="0" cy="0" r="4.2"/></g></svg>
<span id="t45" class="t m" style="left:132.4px;top:539.22px;font-size:28.46px;line-height:37px;color:#fff;letter-spacing:1.4px;-webkit-text-stroke-width:0.35px;">Button</span>
<span id="t46" class="t m" style="left:317.0px;top:512.74px;font-size:33.6px;line-height:44px;color:#0b0c10;letter-spacing:0.582px;">Button Positive</span>
<span id="t47" class="t" style="left:318.0px;top:566.8px;font-size:29.4px;line-height:38px;color:#62708e;letter-spacing:0.312px;">Confirms successful actions or...</span>
<span id="t48" class="t" style="left:835.0px;top:538.8px;font-size:29.4px;line-height:38px;color:#62708e;letter-spacing:0.477px;">6 variants</span>
<div style="left:22px;top:668px;width:960px;height:2px;background:#ededf0;"></div>
<div style="left:38px;top:702px;width:240px;height:160px;border:2px solid #e5e6e7;border-radius:8px;box-sizing:border-box;background:#f9fafa;"></div>
<div style="left:69px;top:746px;width:178px;height:72px;border-radius:9px;background:#131620;"></div>
<svg class="i" style="left:94.9px;top:768px;" width="28" height="28" viewBox="-14 -14 28 28"><g fill="none" stroke="#fff" stroke-width="2.1" stroke-linejoin="round"><path d="M0.0,-12.4 L1.0,-12.2 L1.8,-11.6 L2.4,-10.1 L3.1,-9.5 L3.8,-9.1 L4.5,-8.9 L5.4,-8.9 L6.9,-9.5 L8.0,-9.3 L8.8,-8.8 L9.3,-8.0 L9.5,-6.9 L8.9,-5.4 L8.9,-4.5 L9.1,-3.8 L9.5,-3.1 L10.1,-2.4 L11.6,-1.8 L12.2,-1.0 L12.4,-0.0 L12.2,1.0 L11.6,1.8 L10.1,2.4 L9.5,3.1 L9.1,3.8 L8.9,4.5 L8.9,5.4 L9.5,6.9 L9.3,8.0 L8.8,8.8 L8.0,9.3 L6.9,9.5 L5.4,8.9 L4.5,8.9 L3.8,9.1 L3.1,9.5 L2.4,10.1 L1.8,11.6 L1.0,12.2 L0.0,12.4 L-1.0,12.2 L-1.8,11.6 L-2.4,10.1 L-3.1,9.5 L-3.8,9.1 L-4.5,8.9 L-5.4,8.9 L-6.9,9.5 L-8.0,9.3 L-8.8,8.8 L-9.3,8.0 L-9.5,6.9 L-8.9,5.4 L-8.9,4.5 L-9.1,3.8 L-9.5,3.1 L-10.1,2.4 L-11.6,1.8 L-12.2,1.0 L-12.4,0.0 L-12.2,-1.0 L-11.6,-1.8 L-10.1,-2.4 L-9.5,-3.1 L-9.1,-3.8 L-8.9,-4.5 L-8.9,-5.4 L-9.5,-6.9 L-9.3,-8.0 L-8.8,-8.8 L-8.0,-9.3 L-6.9,-9.5 L-5.4,-8.9 L-4.5,-8.9 L-3.8,-9.1 L-3.1,-9.5 L-2.4,-10.1 L-1.8,-11.6 L-1.0,-12.2Z"/><circle cx="0" cy="0" r="4.2"/></g></svg>
<span id="t49" class="t m" style="left:132.4px;top:763.22px;font-size:28.46px;line-height:37px;color:#fff;letter-spacing:1.4px;-webkit-text-stroke-width:0.35px;">Button</span>
<span id="t50" class="t m" style="left:317.0px;top:736.74px;font-size:33.6px;line-height:44px;color:#0b0c10;letter-spacing:0.376px;">Button Black</span>
<span id="t51" class="t" style="left:318.0px;top:790.8px;font-size:29.4px;line-height:38px;color:#62708e;letter-spacing:0.218px;">Creates strong visual hierarchy...</span>
<span id="t52" class="t" style="left:835.0px;top:762.8px;font-size:29.4px;line-height:38px;color:#62708e;letter-spacing:0.477px;">6 variants</span>
<div style="left:22px;top:892px;width:960px;height:2px;background:#ededf0;"></div>
<div style="left:38px;top:926px;width:240px;height:160px;border:2px solid #e5e6e7;border-radius:8px;box-sizing:border-box;background:#f9fafa;"></div>
<div style="left:69px;top:970px;width:178px;height:72px;border-radius:9px;background:#fff;box-sizing:border-box;border:2px solid #e6e7f0;box-shadow:0 2px 3px rgba(20,20,60,0.06);"></div>
<svg class="i" style="left:94.9px;top:992px;" width="28" height="28" viewBox="-14 -14 28 28"><g fill="none" stroke="#0b0c10" stroke-width="2.1" stroke-linejoin="round"><path d="M0.0,-12.4 L1.0,-12.2 L1.8,-11.6 L2.4,-10.1 L3.1,-9.5 L3.8,-9.1 L4.5,-8.9 L5.4,-8.9 L6.9,-9.5 L8.0,-9.3 L8.8,-8.8 L9.3,-8.0 L9.5,-6.9 L8.9,-5.4 L8.9,-4.5 L9.1,-3.8 L9.5,-3.1 L10.1,-2.4 L11.6,-1.8 L12.2,-1.0 L12.4,-0.0 L12.2,1.0 L11.6,1.8 L10.1,2.4 L9.5,3.1 L9.1,3.8 L8.9,4.5 L8.9,5.4 L9.5,6.9 L9.3,8.0 L8.8,8.8 L8.0,9.3 L6.9,9.5 L5.4,8.9 L4.5,8.9 L3.8,9.1 L3.1,9.5 L2.4,10.1 L1.8,11.6 L1.0,12.2 L0.0,12.4 L-1.0,12.2 L-1.8,11.6 L-2.4,10.1 L-3.1,9.5 L-3.8,9.1 L-4.5,8.9 L-5.4,8.9 L-6.9,9.5 L-8.0,9.3 L-8.8,8.8 L-9.3,8.0 L-9.5,6.9 L-8.9,5.4 L-8.9,4.5 L-9.1,3.8 L-9.5,3.1 L-10.1,2.4 L-11.6,1.8 L-12.2,1.0 L-12.4,0.0 L-12.2,-1.0 L-11.6,-1.8 L-10.1,-2.4 L-9.5,-3.1 L-9.1,-3.8 L-8.9,-4.5 L-8.9,-5.4 L-9.5,-6.9 L-9.3,-8.0 L-8.8,-8.8 L-8.0,-9.3 L-6.9,-9.5 L-5.4,-8.9 L-4.5,-8.9 L-3.8,-9.1 L-3.1,-9.5 L-2.4,-10.1 L-1.8,-11.6 L-1.0,-12.2Z"/><circle cx="0" cy="0" r="4.2"/></g></svg>
<span id="t53" class="t m" style="left:132.4px;top:987.22px;font-size:28.46px;line-height:37px;color:#0b0c10;letter-spacing:1.4px;">Button</span>
<span id="t54" class="t m" style="left:317.0px;top:960.74px;font-size:33.6px;line-height:44px;color:#0b0c10;letter-spacing:0.74px;">Button White</span>
<span id="t55" class="t" style="left:317.0px;top:1014.8px;font-size:29.4px;line-height:38px;color:#62708e;letter-spacing:0.243px;">Provides subtle actions on dark...</span>
<span id="t56" class="t" style="left:835.0px;top:986.8px;font-size:29.4px;line-height:38px;color:#62708e;letter-spacing:0.477px;">6 variants</span>
<div style="left:22px;top:1116px;width:960px;height:2px;background:#ededf0;"></div>
<div style="left:38px;top:1150px;width:240px;height:160px;border:2px solid #e5e6e7;border-radius:8px;box-sizing:border-box;background:#f9fafa;"></div>
<div style="left:69px;top:1194px;width:178px;height:72px;border-radius:9px;background:#f0f1f4;"></div>
<svg class="i" style="left:94.9px;top:1216px;" width="28" height="28" viewBox="-14 -14 28 28"><g fill="none" stroke="#0b0c10" stroke-width="2.1" stroke-linejoin="round"><path d="M0.0,-12.4 L1.0,-12.2 L1.8,-11.6 L2.4,-10.1 L3.1,-9.5 L3.8,-9.1 L4.5,-8.9 L5.4,-8.9 L6.9,-9.5 L8.0,-9.3 L8.8,-8.8 L9.3,-8.0 L9.5,-6.9 L8.9,-5.4 L8.9,-4.5 L9.1,-3.8 L9.5,-3.1 L10.1,-2.4 L11.6,-1.8 L12.2,-1.0 L12.4,-0.0 L12.2,1.0 L11.6,1.8 L10.1,2.4 L9.5,3.1 L9.1,3.8 L8.9,4.5 L8.9,5.4 L9.5,6.9 L9.3,8.0 L8.8,8.8 L8.0,9.3 L6.9,9.5 L5.4,8.9 L4.5,8.9 L3.8,9.1 L3.1,9.5 L2.4,10.1 L1.8,11.6 L1.0,12.2 L0.0,12.4 L-1.0,12.2 L-1.8,11.6 L-2.4,10.1 L-3.1,9.5 L-3.8,9.1 L-4.5,8.9 L-5.4,8.9 L-6.9,9.5 L-8.0,9.3 L-8.8,8.8 L-9.3,8.0 L-9.5,6.9 L-8.9,5.4 L-8.9,4.5 L-9.1,3.8 L-9.5,3.1 L-10.1,2.4 L-11.6,1.8 L-12.2,1.0 L-12.4,0.0 L-12.2,-1.0 L-11.6,-1.8 L-10.1,-2.4 L-9.5,-3.1 L-9.1,-3.8 L-8.9,-4.5 L-8.9,-5.4 L-9.5,-6.9 L-9.3,-8.0 L-8.8,-8.8 L-8.0,-9.3 L-6.9,-9.5 L-5.4,-8.9 L-4.5,-8.9 L-3.8,-9.1 L-3.1,-9.5 L-2.4,-10.1 L-1.8,-11.6 L-1.0,-12.2Z"/><circle cx="0" cy="0" r="4.2"/></g></svg>
<span id="t57" class="t m" style="left:132.4px;top:1211.22px;font-size:28.46px;line-height:37px;color:#0b0c10;letter-spacing:1.4px;">Button</span>
<span id="t58" class="t m" style="left:317.0px;top:1184.74px;font-size:33.6px;line-height:44px;color:#0b0c10;letter-spacing:0.769px;">Button Neutral</span>
<span id="t59" class="t" style="left:317.0px;top:1238.8px;font-size:29.4px;line-height:38px;color:#62708e;letter-spacing:0.337px;">Handles secondary actions with...</span>
<span id="t60" class="t" style="left:835.0px;top:1210.8px;font-size:29.4px;line-height:38px;color:#62708e;letter-spacing:0.477px;">6 variants</span>
<div style="left:22px;top:1340px;width:960px;height:2px;background:#ededf0;"></div>
<div style="left:38px;top:1374px;width:240px;height:160px;border:2px solid #e5e6e7;border-radius:8px;box-sizing:border-box;background:#f9fafa;"></div>
<div style="left:69px;top:1418px;width:178px;height:72px;border-radius:9px;background:#e0282c;"></div>
<svg class="i" style="left:94.9px;top:1440px;" width="28" height="28" viewBox="-14 -14 28 28"><g fill="none" stroke="#fff" stroke-width="2.1" stroke-linejoin="round"><path d="M0.0,-12.4 L1.0,-12.2 L1.8,-11.6 L2.4,-10.1 L3.1,-9.5 L3.8,-9.1 L4.5,-8.9 L5.4,-8.9 L6.9,-9.5 L8.0,-9.3 L8.8,-8.8 L9.3,-8.0 L9.5,-6.9 L8.9,-5.4 L8.9,-4.5 L9.1,-3.8 L9.5,-3.1 L10.1,-2.4 L11.6,-1.8 L12.2,-1.0 L12.4,-0.0 L12.2,1.0 L11.6,1.8 L10.1,2.4 L9.5,3.1 L9.1,3.8 L8.9,4.5 L8.9,5.4 L9.5,6.9 L9.3,8.0 L8.8,8.8 L8.0,9.3 L6.9,9.5 L5.4,8.9 L4.5,8.9 L3.8,9.1 L3.1,9.5 L2.4,10.1 L1.8,11.6 L1.0,12.2 L0.0,12.4 L-1.0,12.2 L-1.8,11.6 L-2.4,10.1 L-3.1,9.5 L-3.8,9.1 L-4.5,8.9 L-5.4,8.9 L-6.9,9.5 L-8.0,9.3 L-8.8,8.8 L-9.3,8.0 L-9.5,6.9 L-8.9,5.4 L-8.9,4.5 L-9.1,3.8 L-9.5,3.1 L-10.1,2.4 L-11.6,1.8 L-12.2,1.0 L-12.4,0.0 L-12.2,-1.0 L-11.6,-1.8 L-10.1,-2.4 L-9.5,-3.1 L-9.1,-3.8 L-8.9,-4.5 L-8.9,-5.4 L-9.5,-6.9 L-9.3,-8.0 L-8.8,-8.8 L-8.0,-9.3 L-6.9,-9.5 L-5.4,-8.9 L-4.5,-8.9 L-3.8,-9.1 L-3.1,-9.5 L-2.4,-10.1 L-1.8,-11.6 L-1.0,-12.2Z"/><circle cx="0" cy="0" r="4.2"/></g></svg>
<span id="t61" class="t m" style="left:132.4px;top:1435.22px;font-size:28.46px;line-height:37px;color:#fff;letter-spacing:1.4px;-webkit-text-stroke-width:0.35px;">Button</span>
<span id="t62" class="t m" style="left:317.0px;top:1408.74px;font-size:33.6px;line-height:44px;color:#0b0c10;letter-spacing:0.826px;">Button Critical</span>
<span id="t63" class="t" style="left:319.0px;top:1462.8px;font-size:29.4px;line-height:38px;color:#62708e;letter-spacing:0.25px;">Warns users before destructive...</span>
<span id="t64" class="t" style="left:835.0px;top:1434.8px;font-size:29.4px;line-height:38px;color:#62708e;letter-spacing:0.477px;">6 variants</span>
<div style="left:22px;top:1564px;width:960px;height:2px;background:#ededf0;"></div>
<div style="left:38px;top:1598px;width:240px;height:160px;border:2px solid #e5e6e7;border-radius:8px;box-sizing:border-box;background:#f9fafa;"></div>
<div style="left:22px;top:1788px;width:960px;height:2px;background:#ededf0;"></div>
</div>
</section>
</main>
<section>
<div class="panel" style="left:1864px;top:80px;width:1280px;height:1823px;"></div>
<span id="t65" class="t" style="left:1886.4px;top:112.5px;font-size:29.4px;line-height:38px;color:#62708e;letter-spacing:1.026px;">Button /</span>
<svg class="i" style="left:2013.7px;top:119.8px;" width="16.4" height="24.4" viewBox="0 0 16 24"><path d="M4,0 H8 V8 H4 A4,4 0 0 1 4,0Z" fill="#f24e1e"/><path d="M8,0 H12 A4,4 0 0 1 12,8 H8Z" fill="#ff7262"/><path d="M4,8 H8 V16 H4 A4,4 0 0 1 4,8Z" fill="#a259ff"/><circle cx="12" cy="12" r="4" fill="#1abcfe"/><path d="M4,16 H8 V20 A4,4 0 1 1 4,16Z" fill="#0acf83"/></svg>
<span id="t66" class="t m" style="left:2045.2px;top:112.5px;font-size:29.4px;line-height:38px;color:#0b0c10;letter-spacing:0.385px;">Button Primary</span>
<span id="t67" class="t m" style="left:2842.2px;top:114.57px;font-size:25.73px;line-height:33px;color:#0b0c10;letter-spacing:0.052px;">Go to detail</span>
<svg class="i" style="left:3012.8px;top:116.8px;" width="30.4" height="30.4" viewBox="0 0 24 24"><g fill="none" stroke="#0b0c10" stroke-width="1.75" stroke-linecap="round" stroke-linejoin="round"><path d="M9 17H7A5 5 0 0 1 7 7h2" transform="rotate(-45 12 12)"/><path d="M15 7h2a5 5 0 1 1 0 10h-2" transform="rotate(-45 12 12)"/><path d="M7.2 12 H16.8" transform="rotate(-45 12 12)"/></g></svg>
<svg class="i" style="left:3080px;top:120px;" width="24" height="24" viewBox="0 0 24 24"><path d="M4.1,4.1 L19.9,19.9 M19.9,4.1 L4.1,19.9" fill="none" stroke="#0b0c10" stroke-width="2.2" stroke-linecap="round"/></svg>
<div style="left:1866px;top:182px;width:1276px;height:2px;background:#e9e9eb;"></div>
<span id="t68" class="t m" style="left:1903.2px;top:216.4px;font-size:29.4px;line-height:38px;color:#0b0c10;letter-spacing:0.184px;">Preview</span>
<span id="t69" class="t m" style="left:2074.8px;top:216.4px;font-size:29.4px;line-height:38px;color:#62708e;letter-spacing:0.649px;">Properties</span>
<div style="left:1866px;top:286px;width:1276px;height:2px;background:#e9e9eb;"></div>
<div style="left:1888px;top:284px;width:140px;height:4px;background:#000;"></div>
<div style="left:1866px;top:288px;width:1276px;height:1613px;background-color:#fff;background-image:radial-gradient(circle,#e5e5ee 1.1px,rgba(229,229,238,0) 1.9px);background-size:12px 12px;background-position:-2px 0px;border-radius:0 0 14px 14px;"></div>
<div style="left:1888px;top:312px;width:348px;height:56px;border-radius:11px;background:#f4f4f5;"></div>
<div style="left:1894px;top:318px;width:164px;height:44px;border-radius:8px;background:#fff;box-shadow:0 1px 3px rgba(0,0,0,0.10),0 0 0 1px rgba(0,0,0,0.03);"></div>
<span id="t70" class="t m" style="left:1910.2px;top:322.56px;font-size:25.2px;line-height:33px;color:#0b0c10;letter-spacing:0.314px;">Playground</span>
<span id="t71" class="t m" style="left:2076.0px;top:322.56px;font-size:25.2px;line-height:33px;color:#0b0c10;letter-spacing:0.326px;">Variants grid</span>
<div style="left:2415px;top:656px;width:178px;height:72px;border-radius:9px;background:#124dc7;"></div>
<svg class="i" style="left:2440.9px;top:678px;" width="28" height="28" viewBox="-14 -14 28 28"><g fill="none" stroke="#fff" stroke-width="2.1" stroke-linejoin="round"><path d="M0.0,-12.4 L1.0,-12.2 L1.8,-11.6 L2.4,-10.1 L3.1,-9.5 L3.8,-9.1 L4.5,-8.9 L5.4,-8.9 L6.9,-9.5 L8.0,-9.3 L8.8,-8.8 L9.3,-8.0 L9.5,-6.9 L8.9,-5.4 L8.9,-4.5 L9.1,-3.8 L9.5,-3.1 L10.1,-2.4 L11.6,-1.8 L12.2,-1.0 L12.4,-0.0 L12.2,1.0 L11.6,1.8 L10.1,2.4 L9.5,3.1 L9.1,3.8 L8.9,4.5 L8.9,5.4 L9.5,6.9 L9.3,8.0 L8.8,8.8 L8.0,9.3 L6.9,9.5 L5.4,8.9 L4.5,8.9 L3.8,9.1 L3.1,9.5 L2.4,10.1 L1.8,11.6 L1.0,12.2 L0.0,12.4 L-1.0,12.2 L-1.8,11.6 L-2.4,10.1 L-3.1,9.5 L-3.8,9.1 L-4.5,8.9 L-5.4,8.9 L-6.9,9.5 L-8.0,9.3 L-8.8,8.8 L-9.3,8.0 L-9.5,6.9 L-8.9,5.4 L-8.9,4.5 L-9.1,3.8 L-9.5,3.1 L-10.1,2.4 L-11.6,1.8 L-12.2,1.0 L-12.4,0.0 L-12.2,-1.0 L-11.6,-1.8 L-10.1,-2.4 L-9.5,-3.1 L-9.1,-3.8 L-8.9,-4.5 L-8.9,-5.4 L-9.5,-6.9 L-9.3,-8.0 L-8.8,-8.8 L-8.0,-9.3 L-6.9,-9.5 L-5.4,-8.9 L-4.5,-8.9 L-3.8,-9.1 L-3.1,-9.5 L-2.4,-10.1 L-1.8,-11.6 L-1.0,-12.2Z"/><circle cx="0" cy="0" r="4.2"/></g></svg>
<span id="t72" class="t m" style="left:2478.4px;top:673.22px;font-size:28.46px;line-height:37px;color:#fff;letter-spacing:1.4px;-webkit-text-stroke-width:0.35px;">Button</span>
<div style="left:1888.5px;top:1016.5px;width:229px;height:55px;border:2px solid #e7e7ec;border-radius:11px;box-sizing:border-box;background:#fff;box-shadow:0 2px 3px rgba(20,20,40,0.05);"></div>
<svg class="i" style="left:1902.6px;top:1031.8px;overflow:visible;" width="18.6" height="25.4" viewBox="4.05 1.05 15.9 22.9"><g fill="#fff" stroke="#000" stroke-width="1.9" stroke-linejoin="round"><path d="M5 5.5A3.5 3.5 0 0 1 8.5 2H12v7H8.5A3.5 3.5 0 0 1 5 5.5z"/><path d="M12 2h3.5a3.5 3.5 0 1 1 0 7H12V2z"/><path d="M12 12.5a3.5 3.5 0 1 1 7 0 3.5 3.5 0 1 1-7 0z"/><path d="M5 19.5A3.5 3.5 0 0 1 8.5 16H12v3.5a3.5 3.5 0 1 1-7 0z"/><path d="M5 12.5A3.5 3.5 0 0 1 8.5 9H12v7H8.5A3.5 3.5 0 0 1 5 12.5z"/></g></svg>
<span id="t73" class="t m" style="left:1936.2px;top:1025.96px;font-size:25.2px;line-height:33px;color:#0b0c10;letter-spacing:-0.243px;">Open in Figma</span>
<div class="clip" style="left:1889px;top:1096px;width:1230px;height:784px;border:2px solid #e8e8ed;border-radius:16px;box-sizing:border-box;background:#fff;box-shadow:0 3px 8px rgba(20,20,40,0.12);">
<span id="t74" class="t m" style="left:46.0px;top:44.76px;font-size:25.2px;line-height:33px;color:#62708e;letter-spacing:0.286px;-webkit-text-stroke-width:0.3px;">Variants</span>
<span id="t75" class="t" style="left:45.0px;top:110.8px;font-size:29.4px;line-height:38px;color:#0b0c10;letter-spacing:0.5px;">Style</span>
<div style="left:621px;top:102px;width:560px;height:56px;border-radius:11px;background:#f5f6f6;"></div>
<span id="t76" class="t" style="left:637.0px;top:113.16px;font-size:25.2px;line-height:33px;color:#0b0c10;letter-spacing:0.3px;">solid</span>
<svg class="i" style="left:1141px;top:124.40000000000009px;" width="16" height="12" viewBox="-8 -6 16 12"><path d="M-4.4,-2.4 L0,2.1 L4.4,-2.4" fill="none" stroke="#0b0c10" stroke-width="2.2" stroke-linecap="round" stroke-linejoin="round"/></svg>
<span id="t77" class="t" style="left:45.0px;top:190.8px;font-size:29.4px;line-height:38px;color:#0b0c10;letter-spacing:-0.536px;">Size</span>
<div style="left:621px;top:182px;width:560px;height:56px;border-radius:11px;background:#f5f6f6;"></div>
<span id="t78" class="t" style="left:636.0px;top:193.16px;font-size:25.2px;line-height:33px;color:#0b0c10;letter-spacing:0.42px;">medium</span>
<svg class="i" style="left:1141px;top:204.4000000000001px;" width="16" height="12" viewBox="-8 -6 16 12"><path d="M-4.4,-2.4 L0,2.1 L4.4,-2.4" fill="none" stroke="#0b0c10" stroke-width="2.2" stroke-linecap="round" stroke-linejoin="round"/></svg>
<span id="t79" class="t" style="left:44.0px;top:270.8px;font-size:29.4px;line-height:38px;color:#0b0c10;letter-spacing:0.1px;">Full width?</span>
<div style="left:637px;top:276px;width:44px;height:28px;border-radius:14px;background:#d4d4d4;"></div>
<div style="left:641px;top:280px;width:20px;height:20px;border-radius:50%;background:#fff;"></div>
<span id="t80" class="t" style="left:45.0px;top:350.8px;font-size:29.4px;line-height:38px;color:#0b0c10;letter-spacing:0.375px;">State</span>
<div style="left:621px;top:342px;width:560px;height:56px;border-radius:11px;background:#f5f6f6;"></div>
<span id="t81" class="t" style="left:637.0px;top:353.16px;font-size:25.2px;line-height:33px;color:#0b0c10;letter-spacing:0.464px;">default</span>
<svg class="i" style="left:1141px;top:364.4000000000001px;" width="16" height="12" viewBox="-8 -6 16 12"><path d="M-4.4,-2.4 L0,2.1 L4.4,-2.4" fill="none" stroke="#0b0c10" stroke-width="2.2" stroke-linecap="round" stroke-linejoin="round"/></svg>
<span id="t82" class="t" style="left:44.0px;top:430.8px;font-size:29.4px;line-height:38px;color:#0b0c10;letter-spacing:0.13px;">Loading?</span>
<div style="left:637px;top:436px;width:44px;height:28px;border-radius:14px;background:#d4d4d4;"></div>
<div style="left:641px;top:440px;width:20px;height:20px;border-radius:50%;background:#fff;"></div>
<span id="t83" class="t m" style="left:43.2px;top:523.96px;font-size:25.2px;line-height:33px;color:#62708e;letter-spacing:0.552px;-webkit-text-stroke-width:0.3px;">Read-only properties</span>
<span id="t84" class="t" style="left:44.0px;top:591.4px;font-size:29.4px;line-height:38px;color:#0b0c10;">Icon?</span>
<div style="left:621px;top:586.0px;width:124px;height:48px;border-radius:11px;background:#f6f7f7;"></div>
<svg class="i" style="left:630px;top:601.0px;" width="30" height="18" viewBox="0 0 30 18"><rect x="1.2" y="1.2" width="27.4" height="15.6" rx="7.8" fill="none" stroke="#5f6d8c" stroke-width="2.4"/><circle cx="9.6" cy="9" r="2.9" fill="none" stroke="#5f6d8c" stroke-width="2.2"/></svg>
<span id="t85" class="t mo" style="left:670.0px;top:594.91px;font-size:27.4px;line-height:36px;color:#0b0c10;-webkit-text-stroke:0.35px #0b0c10;">true</span>
<span id="t86" class="t" style="left:44.0px;top:671.0px;font-size:29.4px;line-height:38px;color:#0b0c10;letter-spacing:0.797px;">Icon</span>
<div style="left:621px;top:665.5999999999999px;width:192px;height:48px;border-radius:11px;background:#f6f7f7;"></div>
<svg class="i" style="left:631px;top:675.5999999999999px;" width="28" height="28" viewBox="-14 -14 28 28"><rect x="-8.1" y="-8.1" width="16.2" height="16.2" rx="1" transform="rotate(45)" fill="none" stroke="#5f6d8c" stroke-width="2.3"/></svg>
<span id="t87" class="t mo" style="left:670.0px;top:674.51px;font-size:27.4px;line-height:36px;color:#0b0c10;-webkit-text-stroke:0.35px #0b0c10;">Settings</span>
<span id="t88" class="t" style="left:44.0px;top:750.6px;font-size:29.4px;line-height:38px;color:#0b0c10;letter-spacing:-0.15px;">End icon?</span>
<div style="left:621px;top:745.2px;width:140px;height:48px;border-radius:11px;background:#f6f7f7;"></div>
<svg class="i" style="left:630px;top:760.2px;" width="30" height="18" viewBox="0 0 30 18"><rect x="1.2" y="1.2" width="27.4" height="15.6" rx="7.8" fill="none" stroke="#5f6d8c" stroke-width="2.4"/><circle cx="9.6" cy="9" r="2.9" fill="none" stroke="#5f6d8c" stroke-width="2.2"/></svg>
<span id="t89" class="t mo" style="left:670.0px;top:754.11px;font-size:27.4px;line-height:36px;color:#0b0c10;-webkit-text-stroke:0.35px #0b0c10;">false</span>
</div>
</section>
</div></body></html>
